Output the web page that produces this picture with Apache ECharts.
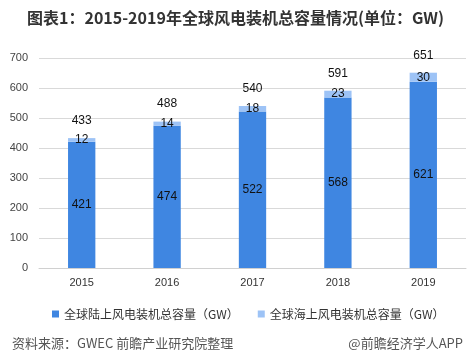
<!DOCTYPE html>
<html><head><meta charset="utf-8">
<script src="https://cdn.jsdelivr.net/npm/echarts@6/dist/echarts.min.js"></script>
<style>html,body{margin:0;padding:0;background:#fff}#c{width:469px;height:361px}</style>
</head><body><div id="c"></div>
<script>
const categories = ['2015','2016','2017','2018','2019'];
const onshore = [421, 474, 522, 568, 621];
const offshore = [12, 14, 18, 23, 30];
const totals = [433, 488, 540, 591, 651];
const yTicks = [0, 100, 200, 300, 400, 500, 600, 700];
const seriesNames = ['全球陆上风电装机总容量（GW）', '全球海上风电装机总容量（GW）'];

const FONT = '"Noto Sans CJK SC", "Liberation Sans", sans-serif';
const chart = echarts.init(document.getElementById('c'));
chart.setOption({
  animation: false,
  textStyle: { fontFamily: FONT },
  title: [
    { text: '图表1：2015-2019年全球风电装机总容量情况(单位：GW)', left: 22, top: 5,
      textStyle: { fontSize: 16, fontWeight: 'bold', color: '#333', fontFamily: FONT } },
    { text: '资料来源：GWEC 前瞻产业研究院整理', left: 7, top: 332,
      textStyle: { fontSize: 13, fontWeight: 'normal', color: '#555', fontFamily: FONT } },
    { text: '@前瞻经济学人APP', right: 1, top: 332,
      textStyle: { fontSize: 13, fontWeight: 'normal', color: '#555', fontFamily: FONT } }
  ],
  legend: {
    left: 47, top: 303, itemWidth: 7, itemHeight: 7, itemGap: 19, icon: 'rect',
    textStyle: { fontSize: 12, color: '#333', fontFamily: FONT },
    data: seriesNames
  },
  grid: { left: 39, right: 3, top: 58, bottom: 93 },
  xAxis: {
    type: 'category', data: categories,
    axisTick: { show: false },
    axisLine: { lineStyle: { color: '#d0d0d0' } },
    axisLabel: { fontSize: 11, color: '#333', margin: 9, fontFamily: '"Liberation Sans", sans-serif' }
  },
  yAxis: {
    type: 'value', min: yTicks[0], max: yTicks[yTicks.length - 1], interval: 100,
    axisLine: { show: false }, axisTick: { show: false },
    splitLine: { lineStyle: { color: '#d9d9d9' } },
    axisLabel: { fontSize: 11, color: '#444', margin: 11, fontFamily: '"Liberation Sans", sans-serif' }
  },
  series: [
    { name: seriesNames[0], type: 'bar', stack: 's', data: onshore, barWidth: '32%',
      itemStyle: { color: '#3f86e1' },
      label: { show: true, position: 'inside', color: '#111', fontSize: 12, fontFamily: '"Liberation Sans", sans-serif' } },
    { name: seriesNames[1], type: 'bar', stack: 's', data: offshore, barWidth: '32%',
      itemStyle: { color: '#9dc3f6' },
      label: { show: true, position: 'inside', color: '#111', fontSize: 12, fontFamily: '"Liberation Sans", sans-serif' } },
    { name: 'total', type: 'line', data: totals, symbol: 'circle', symbolSize: 1, silent: true,
      showSymbol: true,
      itemStyle: { color: 'rgba(0,0,0,0)' },
      lineStyle: { width: 0, color: 'rgba(0,0,0,0)' },
      label: { show: true, position: 'top', distance: 11, color: '#111', fontSize: 12, fontFamily: '"Liberation Sans", sans-serif' } }
  ]
});
</script></body></html>
